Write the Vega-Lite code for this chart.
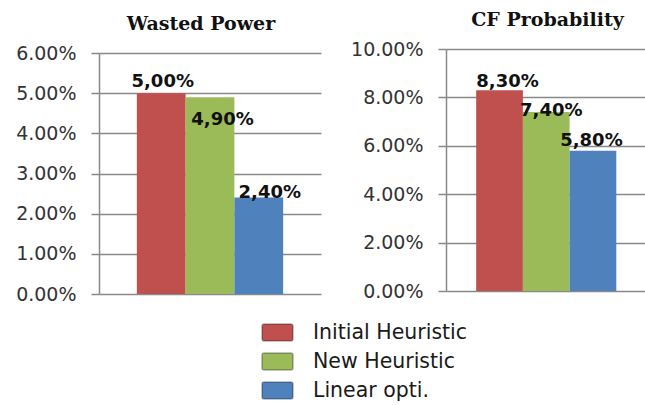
{
  "$schema": "https://vega.github.io/schema/vega-lite/v6.json",
  "padding": {"left": 15, "top": 11, "right": 0, "bottom": 0},
  "background": "white",
  "data": {"values": [
    {"panel": "Wasted Power", "series": "Initial Heuristic", "value": 0.05, "label": "5,00%"},
    {"panel": "Wasted Power", "series": "New Heuristic", "value": 0.049, "label": "4,90%"},
    {"panel": "Wasted Power", "series": "Linear opti.", "value": 0.024, "label": "2,40%"},
    {"panel": "CF Probability", "series": "Initial Heuristic", "value": 0.083, "label": "8,30%"},
    {"panel": "CF Probability", "series": "New Heuristic", "value": 0.074, "label": "7,40%"},
    {"panel": "CF Probability", "series": "Linear opti.", "value": 0.058, "label": "5,80%"}
  ]},
  "spacing": 29,
  "hconcat": [
    {
      "width": 222,
      "height": 245,
      "title": {"text": "Wasted Power", "offset": 10, "dx": -9},
      "transform": [{"filter": "datum.panel === 'Wasted Power'"}],
      "encoding": {
        "x": {"field": "series", "type": "nominal", "sort": ["Initial Heuristic", "New Heuristic", "Linear opti."], "axis": null, "scale": {"paddingInner": 0, "paddingOuter": 0.776}},
        "y": {"field": "value", "type": "quantitative", "scale": {"domain": [0, 0.06], "nice": false, "range": [245, 4]}, "axis": {"format": ".2%", "values": [0, 0.01, 0.02, 0.03, 0.04, 0.05, 0.06], "title": null}}
      },
      "layer": [
        {"mark": {"type": "bar"}, "encoding": {"color": {"field": "series", "type": "nominal", "scale": {"domain": ["Initial Heuristic", "New Heuristic", "Linear opti."], "range": ["#C0504D", "#9BBB59", "#4F81BD"]}}}},
        {"transform": [{"filter": "datum.series === 'Initial Heuristic'"}], "mark": {"type": "text", "dx": 1.5, "dy": -6}, "encoding": {"text": {"field": "label"}}},
        {"transform": [{"filter": "datum.series === 'New Heuristic'"}], "mark": {"type": "text", "dx": 12.5, "dy": 28}, "encoding": {"text": {"field": "label"}}},
        {"transform": [{"filter": "datum.series === 'Linear opti.'"}], "mark": {"type": "text", "dx": 11, "dy": 0}, "encoding": {"text": {"field": "label"}}}
      ]
    },
    {
      "width": 203,
      "height": 242,
      "title": {"text": "CF Probability", "offset": 10},
      "transform": [{"filter": "datum.panel === 'CF Probability'"}],
      "encoding": {
        "x": {"field": "series", "type": "nominal", "sort": ["Initial Heuristic", "New Heuristic", "Linear opti."], "axis": null, "scale": {"paddingInner": 0, "paddingOuter": 0.673, "align": 0.48}},
        "y": {"field": "value", "type": "quantitative", "scale": {"domain": [0, 0.1], "nice": false}, "axis": {"format": ".2%", "values": [0, 0.02, 0.04, 0.06, 0.08, 0.1], "title": null}}
      },
      "layer": [
        {"mark": {"type": "bar"}, "encoding": {"color": {"field": "series", "type": "nominal", "scale": {"domain": ["Initial Heuristic", "New Heuristic", "Linear opti."], "range": ["#C0504D", "#9BBB59", "#4F81BD"]}}}},
        {"transform": [{"filter": "datum.series === 'Initial Heuristic'"}], "mark": {"type": "text", "dx": 8, "dy": -3}, "encoding": {"text": {"field": "label"}}},
        {"transform": [{"filter": "datum.series === 'New Heuristic'"}], "mark": {"type": "text", "dx": 5, "dy": 4}, "encoding": {"text": {"field": "label"}}},
        {"transform": [{"filter": "datum.series === 'Linear opti.'"}], "mark": {"type": "text", "dx": -1.5, "dy": -4.5}, "encoding": {"text": {"field": "label"}}}
      ]
    }
  ],
  "resolve": {"scale": {"color": "shared"}},
  "config": {
    "view": {"stroke": null},
    "axis": {
      "labelFont": "DejaVu Sans", "labelFontSize": 19, "labelColor": "#333333", "labelPadding": 15,
      "tickSize": 8, "tickColor": "#898989", "tickWidth": 1.5,
      "gridColor": "#898989", "gridWidth": 1.5,
      "domainColor": "#898989", "domainWidth": 1.5
    },
    "title": {"font": "DejaVu Serif", "fontSize": 19, "fontWeight": "bold", "color": "#111111", "anchor": "middle", "frame": "group", "baseline": "alphabetic"},
    "text": {"font": "DejaVu Sans", "fontSize": 18, "fontWeight": "bold", "color": "#111111", "align": "center", "baseline": "alphabetic"},
    "legend": {
      "orient": "none", "legendX": 162, "legendY": 267, "title": null, "direction": "vertical",
      "symbolType": "M-0.86,-0.55L0.86,-0.55Q1,-0.55 1,-0.41L1,0.41Q1,0.55 0.86,0.55L-0.86,0.55Q-1,0.55 -1,0.41L-1,-0.41Q-1,-0.55 -0.86,-0.55Z", "symbolSize": 961,
      "symbolStrokeColor": "rgba(0,0,0,0.3)", "symbolStrokeWidth": 1.5,
      "labelFont": "DejaVu Sans", "labelFontSize": 20.5, "labelColor": "#1a1a1a", "labelOffset": 19, "rowPadding": -1
    }
  }
}
